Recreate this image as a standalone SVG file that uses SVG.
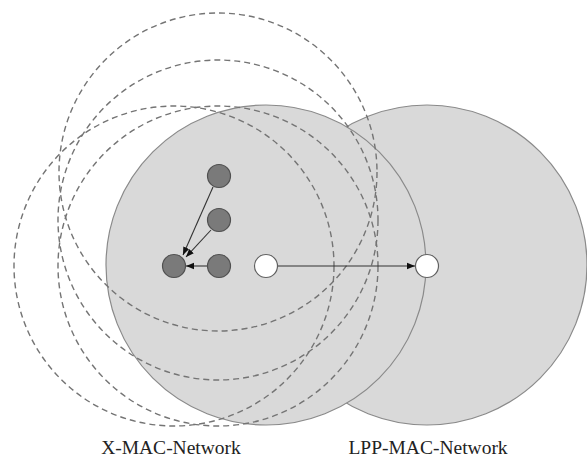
<svg xmlns="http://www.w3.org/2000/svg" width="587" height="459" viewBox="0 0 587 459">
<defs>
<style>
.net{fill:#d9d9d9;stroke:#8a8a8a;stroke-width:1.2}
.range{fill:none;stroke:#747474;stroke-width:1.4;stroke-dasharray:6,4}
.dark{fill:#7a7a7a;stroke:#505050;stroke-width:1.2}
.white{fill:#ffffff;stroke:#606060;stroke-width:1.2}
.link{stroke:#333;stroke-width:1.1;fill:none;marker-end:url(#ah)}
.lbl{font-family:"Liberation Serif","Times New Roman",serif;font-size:19.5px;fill:#222;text-anchor:middle}
</style>
<marker id="ah" viewBox="0 0 10 10" refX="10" refY="5" markerWidth="8" markerHeight="8" markerUnits="userSpaceOnUse" orient="auto">
<path d="M0,1 L10,5 L0,9 z" fill="#111"/>
</marker>
</defs>
<rect width="587" height="459" fill="#ffffff"/>
<g id="lpp-network"><circle class="net" cx="427" cy="265" r="160"/></g>
<g id="xmac-network"><circle class="net" cx="266" cy="265" r="160"/></g>
<g id="ranges">
<circle class="range" cx="218" cy="172" r="159"/>
<circle class="range" cx="218" cy="220" r="160"/>
<circle class="range" cx="218" cy="266" r="160"/>
<circle class="range" cx="174" cy="266" r="160"/>
</g>
<g id="connectors">
<line class="link" x1="213" y1="187" x2="183" y2="255"/>
<line class="link" x1="211" y1="230" x2="186" y2="257"/>
<line class="link" x1="207" y1="266" x2="186" y2="266"/>
<line class="link" x1="277" y1="266" x2="415" y2="266"/>
</g>
<g id="node-a"><circle class="dark" cx="219" cy="176" r="11.5"/></g>
<g id="node-b"><circle class="dark" cx="219" cy="220" r="11.5"/></g>
<g id="node-c"><circle class="dark" cx="219" cy="266" r="11.5"/></g>
<g id="node-d"><circle class="dark" cx="174" cy="266" r="11.5"/></g>
<g id="gateway-x"><circle class="white" cx="266" cy="266" r="11.5"/></g>
<g id="gateway-lpp"><circle class="white" cx="427" cy="266" r="11.5"/></g>
<g id="labels">
<text class="lbl" x="171" y="454">X-MAC-Network</text>
<text class="lbl" x="428" y="454">LPP-MAC-Network</text>
</g>
</svg>
